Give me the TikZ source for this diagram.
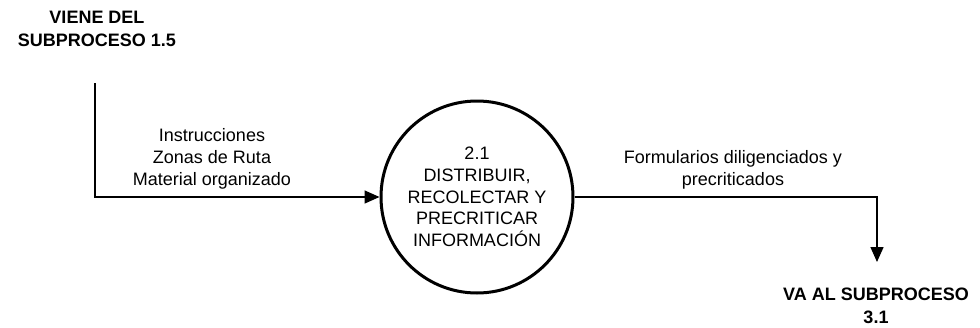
\documentclass[tikz,border=0pt]{standalone}
\usepackage{fontspec}
\setmainfont{Liberation Sans}
\usetikzlibrary{arrows.meta,positioning}
\tikzstyle{proceso}=[circle,draw=black,line width=3,minimum size=192,inner sep=0,align=center,font=\fontsize{18}{21.7}\selectfont]
\tikzstyle{etiqueta}=[align=center,inner sep=0,font=\fontsize{18}{21.7}\selectfont]
\tikzstyle{externo}=[align=center,inner sep=0,font=\fontsize{18}{22.5}\selectfont\bfseries]
\tikzstyle{flujo}=[line width=1.5,-{Triangle[length=15,width=13]}]
\begin{document}
\begin{tikzpicture}[x=1pt,y=-1pt]
				\useasboundingbox (0,0) rectangle (980,327);
				\node[proceso](p21) at (477,197){2.1\\DISTRIBUIR,\\RECOLECTAR Y\\PRECRITICAR\\INFORMACIÓN};
				\node[externo](origen) at (97,29){VIENE DEL\\SUBPROCESO 1.5};
				\node[externo](destino) at (876,306){VA AL SUBPROCESO\\3.1};
				\coordinate (ini) at (95,83);
				\coordinate (fin) at (877,262);
				\draw[flujo](ini) |- (p21.west);
				\draw[flujo](p21.east) -| (fin);
				\node[etiqueta](entrada) at (212,159){Instrucciones\\Zonas de Ruta\\Material organizado};
				\node[etiqueta](salida) at (733,170){Formularios diligenciados y\\precriticados};
			\end{tikzpicture}
\end{document}
